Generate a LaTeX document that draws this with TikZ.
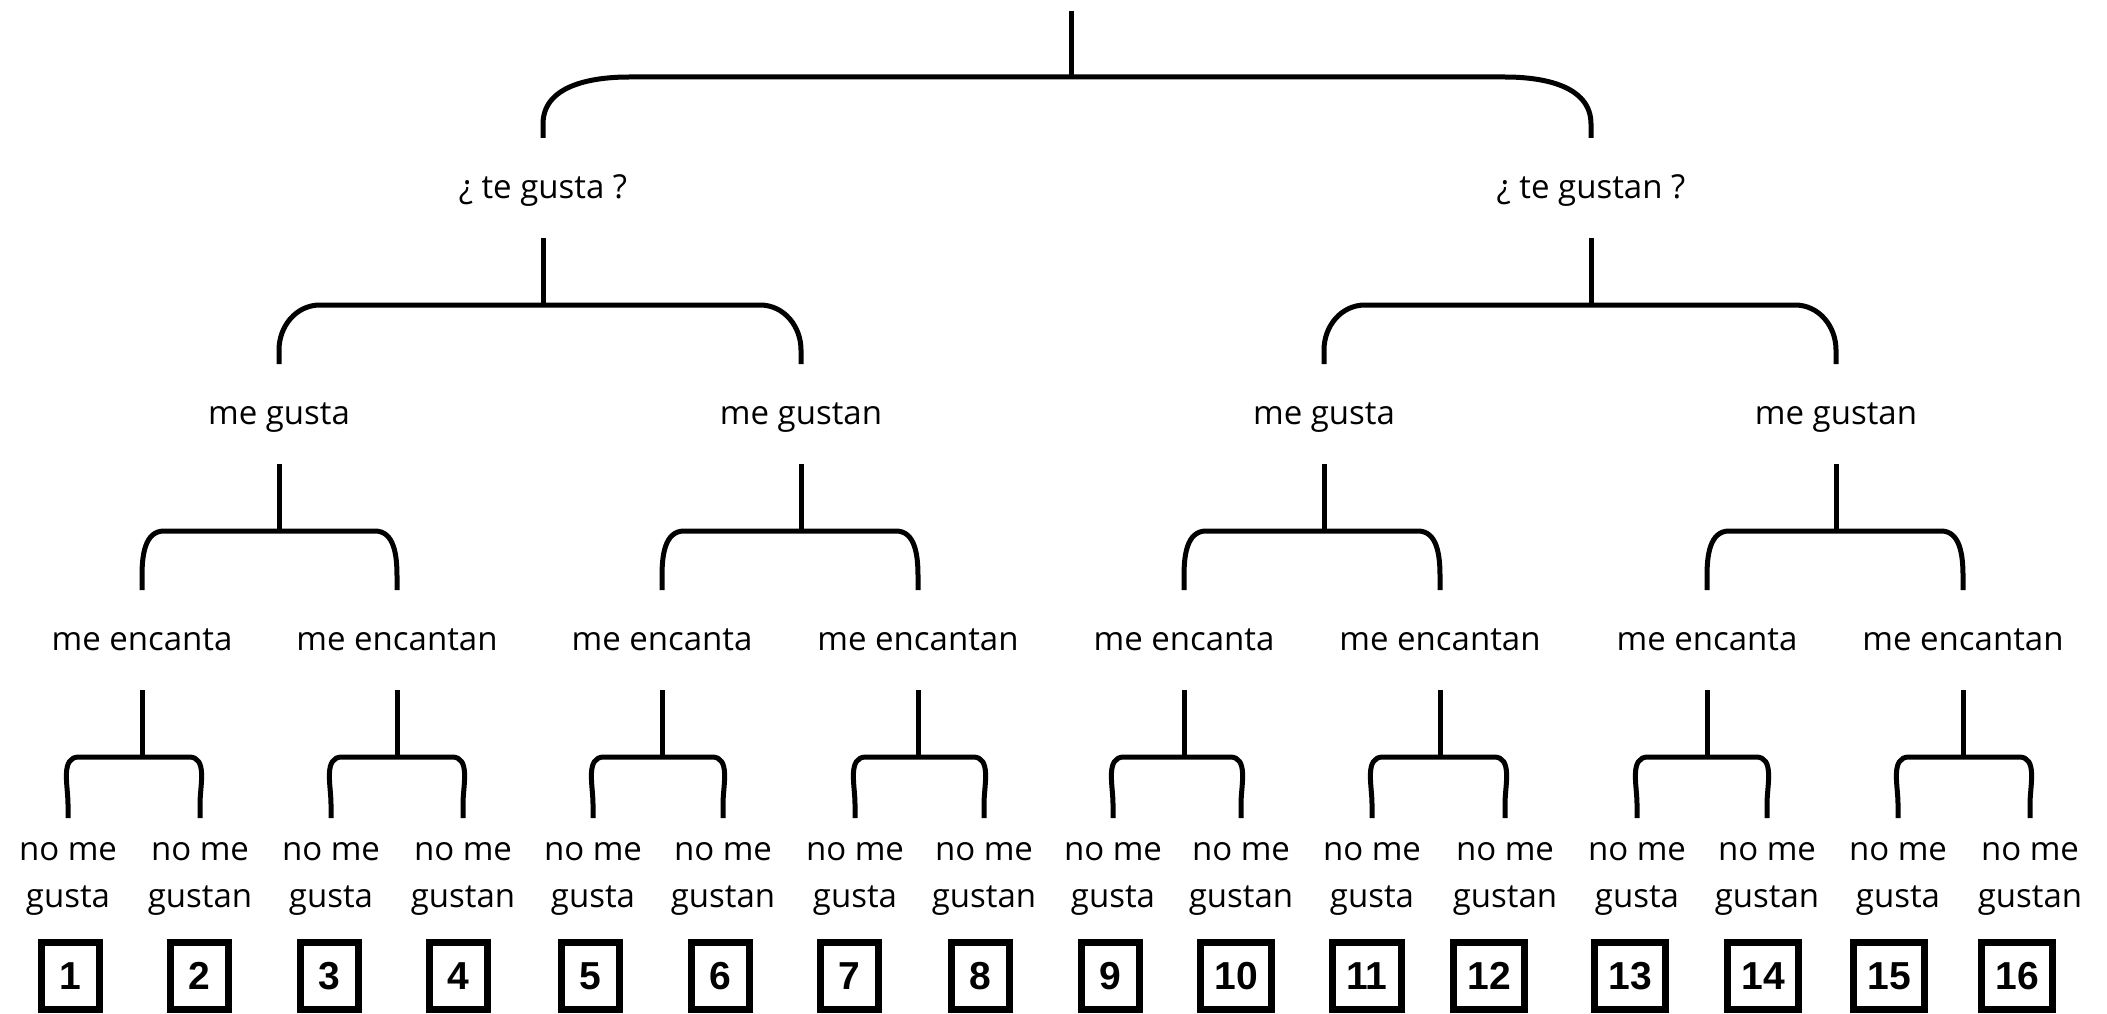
\documentclass[tikz,border=0pt]{standalone}
\usepackage{fontspec}
\setmainfont{Open Sans}
\newfontfamily\numfont{Liberation Sans}
\usetikzlibrary{calc}
\tikzset{
	arm/.style={line width=5pt},
	lbl/.style={inner sep=0pt, anchor=base, font=\fontsize{33}{47}\selectfont},
	leaf/.style={lbl, align=center},
	num/.style={draw, line width=7pt, minimum width=58pt, minimum height=67pt, inner xsep=14pt, inner ysep=0pt, font=\numfont\bfseries\fontsize{39}{39}\selectfont},
}
% bracket: bar coordinate, left child, right child, corner, drop
\newcommand{\fork}[5]{%
	\draw[arm] ($(#2.base)+(0,-#5)$) -- ++(0,-14) to[out=90,in=180] ($(#2.base |- #1)+(#4,0)$)
		-- ($(#3.base |- #1)+(-#4,0)$) to[out=0,in=90] ($(#3.base)+(0,-#5-14)$) -- ++(0,14);}

\begin{document}
\begin{tikzpicture}[x=1pt,y=-1pt]
	\useasboundingbox (0,0) rectangle (2107,1014);
	\coordinate (top) at (1071,11);
	\node[lbl] (q1) at (543,198) {¿ te gusta ?};
	\node[lbl] (q2) at (1591,198) {¿ te gustan ?};
	\node[lbl] (g1) at (279,424) {me gusta};
	\node[lbl] (g2) at (801,424) {me gustan};
	\node[lbl] (g3) at (1324,424) {me gusta};
	\node[lbl] (g4) at (1836,424) {me gustan};
	\node[lbl] (e1) at (142,650) {me encanta};
	\node[lbl] (e2) at (397,650) {me encantan};
	\node[lbl] (e3) at (662,650) {me encanta};
	\node[lbl] (e4) at (918,650) {me encantan};
	\node[lbl] (e5) at (1184,650) {me encanta};
	\node[lbl] (e6) at (1440,650) {me encantan};
	\node[lbl] (e7) at (1707,650) {me encanta};
	\node[lbl] (e8) at (1963,650) {me encantan};
	\foreach \i/\x in {1/68,3/331,5/593,7/855,9/1113,11/1372,13/1637,15/1898}
		\node[leaf] (n\i) at (\x,907) {no me\\gusta};
	\foreach \i/\x in {2/200,4/463,6/723,8/984,10/1241,12/1505,14/1767,16/2030}
		\node[leaf] (n\i) at (\x,907) {no me\\gustan};
	\foreach \i/\x in {1/70,2/199,3/329,4/458,5/590,6/720,7/849,8/980,9/1110,10/1236,11/1367,12/1489,13/1630,14/1763,15/1889,16/2017}
		\node[num] (b\i) at (\x,976) {\i};

	\draw[arm] (top) -- ++(0,66) coordinate (top-bar);
	\foreach \n in {q1,q2,g1,g2,g3,g4,e1,e2,e3,e4,e5,e6,e7,e8}
		\draw[arm] ($(\n.base)+(0,40)$) -- ++(0,67) coordinate (\n-bar);
	\fork{top-bar}{q1}{q2}{86}{60}
	\fork{q1-bar}{g1}{g2}{41}{60}
	\fork{q2-bar}{g3}{g4}{41}{60}
	\foreach \p/\l/\r in {g1/e1/e2,g2/e3/e4,g3/e5/e6,g4/e7/e8}
		{\fork{\p-bar}{\l}{\r}{22}{60}}
	\foreach \p/\l/\r in {e1/n1/n2,e2/n3/n4,e3/n5/n6,e4/n7/n8,e5/n9/n10,e6/n11/n12,e7/n13/n14,e8/n15/n16}
		{\fork{\p-bar}{\l}{\r}{11}{89}}
\end{tikzpicture}
\end{document}
